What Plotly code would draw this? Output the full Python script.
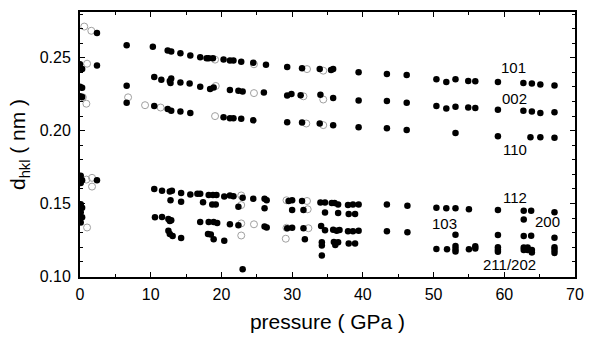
import plotly.graph_objects as go

# ---------------- data (pressure in GPa, d-spacing in nm) ----------------
# low-pressure phase (near 0 GPa)
lp_filled_x = [0.0, 0.3, 0.0, 0.3, 0.0, 0.3, 2.4, 2.4, 0.1, 0.3, 0.1, 0.1, 0.3, 0.1, 0.3, 0.1, 2.4]
lp_filled_y = [0.2456, 0.2423, 0.2302, 0.2295, 0.2236, 0.2231, 0.2447, 0.2671,
               0.1690, 0.1660, 0.1640, 0.1495, 0.1470, 0.1440, 0.1405, 0.1370, 0.1660]
lp_open_x = [0.6, 1.6, 1.0, 0.4, 0.9, 0.9, 1.7, 1.7, 1.0]
lp_open_y = [0.2715, 0.2686, 0.2460, 0.2229, 0.2185, 0.1664, 0.1676, 0.1616, 0.1335]

# 101
r101_x = [6.6, 10.3, 12.4, 12.9, 14.2, 15.6, 17.0, 17.9, 18.2, 18.8, 20.3, 21.2, 21.7, 22.8,
          24.5, 26.3, 29.3, 31.4, 33.9, 35.5, 35.8, 39.4, 43.4, 46.2, 50.4, 51.8, 53.1, 54.9,
          55.9, 59.1, 62.7, 63.9, 65.1, 67.1]
r101_y = [0.2587, 0.2577, 0.2550, 0.2544, 0.2531, 0.2517, 0.2504, 0.2498, 0.2498, 0.2498,
          0.2488, 0.2482, 0.2482, 0.2473, 0.2467, 0.2452, 0.2438, 0.2429, 0.2423, 0.2416,
          0.2423, 0.2401, 0.2390, 0.2383, 0.2353, 0.2335, 0.2353, 0.2341, 0.2339, 0.2335,
          0.2328, 0.2324, 0.2317, 0.2310]
r101_open_x = [19.1, 24.6, 32.1, 34.4]
r101_open_y = [0.2488, 0.2456, 0.2423, 0.2412]

# 002
r002_x = [6.6, 10.5, 11.5, 12.7, 12.9, 12.8, 14.2, 15.5, 17.0, 18.4, 18.9, 21.2, 22.4, 23.0,
          26.0, 29.3, 29.9, 31.2, 34.0, 35.8, 39.4, 43.4, 46.2, 50.4, 51.8, 53.1, 54.9, 55.9,
          59.1, 62.7, 63.9, 65.1, 67.1]
r002_y = [0.2309, 0.2368, 0.2350, 0.2341, 0.2359, 0.2328, 0.2330, 0.2324, 0.2302, 0.2287,
          0.2297, 0.2280, 0.2274, 0.2269, 0.2262, 0.2241, 0.2251, 0.2243, 0.2247, 0.2225,
          0.2208, 0.2203, 0.2192, 0.2170, 0.2152, 0.2165, 0.2159, 0.2155, 0.2144, 0.2137,
          0.2132, 0.2122, 0.2126]
r002_open_x = [19.2, 24.6, 31.6, 34.4]
r002_open_y = [0.2307, 0.2258, 0.2236, 0.2214]

# 110
r110_x = [6.6, 10.5, 12.4, 12.9, 14.2, 15.6, 20.3, 21.2, 21.7, 22.8, 24.5, 29.3, 31.4, 33.9,
          35.8, 39.4, 43.4, 46.2, 53.1, 59.1, 63.7, 65.1, 67.1]
r110_y = [0.2192, 0.2170, 0.2148, 0.2137, 0.2131, 0.2121, 0.2093, 0.2086, 0.2086, 0.2082,
          0.2071, 0.2058, 0.2056, 0.2049, 0.2038, 0.2023, 0.2016, 0.2005, 0.1984, 0.1961,
          0.1955, 0.1955, 0.1951]
r110_open_x = [6.8, 9.2, 11.4, 19.1, 32.0, 34.4]
r110_open_y = [0.2229, 0.2175, 0.2159, 0.2100, 0.2049, 0.2038]

# 112
r112_x = [10.5, 11.6, 12.7, 13.0, 14.3, 15.6, 16.6, 17.0, 18.2, 18.8, 19.3, 20.4, 21.2, 21.7,
          23.0, 24.5, 26.1, 26.4, 29.5, 30.0, 31.4, 34.0, 34.65, 35.6, 36.0, 36.5, 37.9, 38.6,
          39.4, 43.4, 46.3, 50.4, 51.8, 53.1, 55.0, 59.1, 62.75, 63.8, 67.1]
r112_y = [0.1599, 0.1588, 0.1583, 0.1588, 0.1572, 0.1562, 0.1566, 0.1566, 0.1559, 0.1559,
          0.1559, 0.1548, 0.1555, 0.1550, 0.1539, 0.1533, 0.1533, 0.1522, 0.1517, 0.1522,
          0.1517, 0.1506, 0.1506, 0.1504, 0.1504, 0.1493, 0.1489, 0.1493, 0.1493, 0.1493,
          0.1485, 0.1471, 0.1467, 0.1467, 0.1460, 0.1456, 0.1450, 0.1450, 0.1440]
r112_open_x = [22.8, 29.2, 32.1]
r112_open_y = [0.1555, 0.1522, 0.1517]

# 103
r103_x = [12.8, 14.3, 17.4, 18.7, 19.2, 22.4, 26.1, 30.0, 31.6, 34.65, 36.5, 38.0, 38.9,
          53.1, 59.1, 62.75, 63.8, 67.1]
r103_y = [0.1522, 0.1511, 0.1508, 0.1493, 0.1493, 0.1478, 0.1467, 0.1456, 0.1456, 0.1438,
          0.1434, 0.1427, 0.1427, 0.1285, 0.1283, 0.1276, 0.1278, 0.1265]
r103_open_x = [22.8, 32.2]
r103_open_y = [0.1489, 0.1460]

# 200
r200_x = [10.6, 11.6, 12.5, 12.9, 12.7, 17.0, 18.2, 18.9, 19.4, 21.2, 22.4, 26.1, 26.4, 29.3,
          30.0, 31.6, 34.1, 34.65, 35.8, 36.3, 36.7, 37.9, 38.6, 39.4, 43.4, 46.3, 62.75]
r200_y = [0.1405, 0.1407, 0.1394, 0.1384, 0.1379, 0.1372, 0.1372, 0.1372, 0.1366, 0.1357,
          0.1351, 0.1341, 0.1335, 0.1330, 0.1333, 0.1330, 0.1346, 0.1316, 0.1320, 0.1313,
          0.1318, 0.1309, 0.1309, 0.1313, 0.1309, 0.1302, 0.1390]
r200_open_x = [22.8, 24.6, 29.2, 32.3]
r200_open_y = [0.1363, 0.1357, 0.1333, 0.1330]

# 211/202
r211_x = [12.5, 12.7, 13.1, 14.3, 18.1, 18.5, 18.9, 20.4, 23.0, 31.8, 34.2, 34.2, 34.2, 35.9,
          36.1, 36.5, 38.0, 38.9, 50.4, 51.9, 53.1, 53.1, 53.1, 55.0, 55.9, 55.9, 59.1, 59.1,
          59.1, 62.75, 62.75, 63.3, 63.3, 63.9, 63.9, 67.1, 67.1, 67.1]
r211_y = [0.1313, 0.1291, 0.1277, 0.1262, 0.1291, 0.1287, 0.1254, 0.1244, 0.1049, 0.1254,
          0.1234, 0.1211, 0.1142, 0.1236, 0.1214, 0.1234, 0.1225, 0.1225, 0.1188, 0.1186,
          0.1208, 0.1188, 0.1170, 0.1186, 0.1206, 0.1190, 0.1199, 0.1183, 0.1168, 0.1197,
          0.1181, 0.1197, 0.1181, 0.1181, 0.1163, 0.1199, 0.1181, 0.1160]
r211_open_x = [22.8, 29.1]
r211_open_y = [0.1280, 0.1258]

# peak labels
label_text = ["101", "002", "110", "112", "103", "200", "211/202"]
label_x = [61.3, 61.4, 61.5, 61.5, 51.5, 66.1, 60.7]
label_y = [0.2434, 0.2223, 0.1868, 0.1542, 0.1364, 0.1379, 0.1084]

x_ticks = [0, 10, 20, 30, 40, 50, 60, 70]
y_ticks = [0.10, 0.15, 0.20, 0.25]
y_ticklabels = ["0.10", "0.15", "0.20", "0.25"]

# ---------------- figure ----------------
filled_x = lp_filled_x + r101_x + r002_x + r110_x + r112_x + r103_x + r200_x + r211_x
filled_y = lp_filled_y + r101_y + r002_y + r110_y + r112_y + r103_y + r200_y + r211_y
open_x = lp_open_x + r101_open_x + r002_open_x + r110_open_x + r112_open_x + r103_open_x + r200_open_x + r211_open_x
open_y = lp_open_y + r101_open_y + r002_open_y + r110_open_y + r112_open_y + r103_open_y + r200_open_y + r211_open_y

FONT = "Liberation Sans, Arial, Helvetica, sans-serif"

fig = go.Figure()
fig.add_trace(go.Scatter(
    x=open_x, y=open_y, mode="markers", showlegend=False,
    marker=dict(symbol="circle-open", size=7, color="#a0a0a0", line=dict(width=1, color="#a0a0a0")),
))
fig.add_trace(go.Scatter(
    x=filled_x, y=filled_y, mode="markers", showlegend=False,
    marker=dict(symbol="circle", size=6.5, color="black", line=dict(width=0)),
))

for t, lx, ly in zip(label_text, label_x, label_y):
    fig.add_annotation(x=lx, y=ly, text=t, showarrow=False,
                       font=dict(family=FONT, size=15, color="black"))

fig.update_layout(
    width=593, height=339,
    margin=dict(l=80, r=9, t=12, b=51),
    paper_bgcolor="white", plot_bgcolor="white",
    font=dict(family=FONT, color="black"),
)
fig.update_xaxes(
    range=[0, 70], tickvals=x_ticks, ticks="inside", ticklen=5, tickwidth=1.2,
    tickcolor="black", showline=True, linecolor="black", linewidth=2, mirror="ticks",
    showgrid=False, zeroline=False, tickfont=dict(size=16, family=FONT),
    ticklabelstandoff=2,
    minor=dict(dtick=5, ticks="inside", ticklen=3, tickcolor="black", showgrid=False),
    title=dict(text="pressure ( GPa )", font=dict(size=21, family=FONT), standoff=12),
)
fig.update_yaxes(
    range=[0.0995, 0.2815], tickvals=y_ticks, ticktext=y_ticklabels, ticks="inside",
    ticklen=5, tickwidth=1.2, tickcolor="black", showline=True, linecolor="black",
    linewidth=2, mirror="ticks", showgrid=False, zeroline=False,
    tickfont=dict(size=16, family=FONT), ticklabelstandoff=4,
    minor=dict(dtick=0.01, ticks="inside", ticklen=3, tickcolor="black", showgrid=False),
    title=dict(text="d<sub>hkl</sub> ( nm )", font=dict(size=21, family=FONT), standoff=8),
)

fig.write_html("out.html")
